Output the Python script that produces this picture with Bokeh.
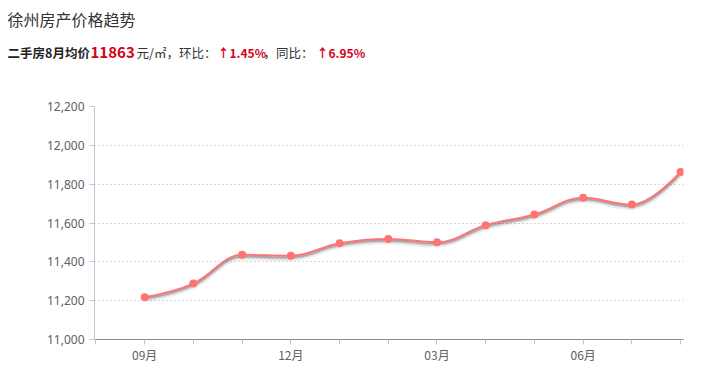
import numpy as np
from bokeh.plotting import figure
from bokeh.layouts import column
from bokeh.models import FixedTicker, NumeralTickFormatter, Range1d
from bokeh.core.properties import value
from bokeh.embed import file_html
from bokeh.resources import INLINE

# ---- data ----
months = ["09月", "10月", "11月", "12月", "01月", "02月", "03月", "04月", "05月", "06月", "07月", "08月"]
prices = [11218, 11288, 11436, 11431, 11496, 11518, 11501, 11589, 11644, 11730, 11695, 11863]
y_ticks = [11000, 11200, 11400, 11600, 11800, 12000, 12200]
title_text = "徐州房产价格趋势"
sub_parts = ["二手房8月均价", "11863", "元/㎡，环比：", "↑1.45%", "，同比：", "↑6.95%"]

LINE = "#ff7373"
RED = "#d0021b"
FONT = "Noto Sans CJK SC"

xs = list(range(len(prices)))

# Highcharts-like spline control points
def spline_segments(x, y, smoothing=1.5):
    n = len(x)
    denom = smoothing + 1
    lc = [None] * n
    rc = [None] * n
    for i in range(n):
        px, py = x[i], y[i]
        if 0 < i < n - 1:
            lx, ly = x[i - 1], y[i - 1]
            nx, ny = x[i + 1], y[i + 1]
            lcx = (smoothing * px + lx) / denom
            lcy = (smoothing * py + ly) / denom
            rcx = (smoothing * px + nx) / denom
            rcy = (smoothing * py + ny) / denom
            if rcx != lcx:
                corr = ((rcy - lcy) * (rcx - px)) / (rcx - lcx) + py - rcy
                lcy += corr
                rcy += corr
            if lcy > ly and lcy > py:
                lcy = max(ly, py); rcy = 2 * py - lcy
            elif lcy < ly and lcy < py:
                lcy = min(ly, py); rcy = 2 * py - lcy
            if rcy > ny and rcy > py:
                rcy = max(ny, py); lcy = 2 * py - rcy
            elif rcy < ny and rcy < py:
                rcy = min(ny, py); lcy = 2 * py - rcy
            lc[i] = (lcx, lcy)
            rc[i] = (rcx, rcy)
        else:
            lc[i] = (px, py)
            rc[i] = (px, py)
    segs = dict(x0=[], y0=[], x1=[], y1=[], cx0=[], cy0=[], cx1=[], cy1=[])
    for i in range(n - 1):
        segs["x0"].append(x[i]); segs["y0"].append(y[i])
        segs["x1"].append(x[i + 1]); segs["y1"].append(y[i + 1])
        segs["cx0"].append(rc[i][0]); segs["cy0"].append(rc[i][1])
        segs["cx1"].append(lc[i + 1][0]); segs["cy1"].append(lc[i + 1][1])
    return segs

segs = spline_segments(xs, prices)

W = 712
HEAD_H = 70
H = 367 - HEAD_H

# ---- header (title + subtitle) ----
hd = figure(width=W, height=HEAD_H, output_backend="svg", toolbar_location=None,
            x_range=Range1d(0, W), y_range=Range1d(HEAD_H, 0),
            min_border=0, x_axis_location=None, y_axis_location=None)
hd.frame_align = False
hd.outline_line_color = None
hd.grid.grid_line_color = None
hd.text(x=[7], y=[18], text=[title_text], text_font=value(FONT), text_font_size="16px",
        text_color="#333333", text_baseline="middle")
sub_x = [7, 90, 136, 217, 263, 316]
sub_style = [("bold", "#222222", "12.5px"), ("bold", RED, "15px"), ("normal", "#333333", "12.5px"),
             ("bold", RED, "12px"), ("normal", "#333333", "12.5px"), ("bold", RED, "12px")]
for t, sx, (fs, col, sz) in zip(sub_parts, sub_x, sub_style):
    hd.text(x=[sx], y=[52], text=[t], text_font=value(FONT), text_font_size=sz,
            text_font_style=fs, text_color=col, text_baseline="middle")

# ---- chart ----
p = figure(width=W, height=H, output_backend="svg", toolbar_location=None,
           x_range=Range1d(-1.03, 11.06), y_range=Range1d(y_ticks[0], y_ticks[-1]),
           min_border_left=94, min_border_right=29, min_border_top=106 - HEAD_H, min_border_bottom=28)
p.frame_align = False
p.outline_line_color = None
p.background_fill_color = "white"

# shadow
shadow_off = 10
for w, a, off in [(5, 0.06, 1.6), (3, 0.12, 1.2), (2, 0.2, 0.8)]:
    p.bezier(x0=segs["x0"], y0=[v - shadow_off * off for v in segs["y0"]],
             x1=segs["x1"], y1=[v - shadow_off * off for v in segs["y1"]],
             cx0=segs["cx0"], cy0=[v - shadow_off * off for v in segs["cy0"]],
             cx1=segs["cx1"], cy1=[v - shadow_off * off for v in segs["cy1"]],
             line_color="black", line_alpha=a, line_width=w)
p.bezier(**segs, line_color=LINE, line_width=2)
p.scatter(xs, prices, size=8, fill_color=LINE, line_color=None)

# axes
p.xgrid.grid_line_color = None
p.ygrid.grid_line_color = "#b0b0b0"
p.ygrid.grid_line_dash = "1 3"
p.ygrid.ticker = FixedTicker(ticks=y_ticks)

p.yaxis.ticker = FixedTicker(ticks=y_ticks)
p.yaxis.formatter = NumeralTickFormatter(format="0,0")
p.yaxis.axis_line_color = "#c0c8d8"
p.yaxis.major_tick_line_color = "#c0c8d8"
p.yaxis.major_tick_out = 5
p.yaxis.major_tick_in = 0
p.yaxis.minor_tick_line_color = None
p.yaxis.major_label_text_color = "#606060"
p.yaxis.major_label_text_font = "Noto Sans"
p.yaxis.major_label_text_font_size = "12px"
p.yaxis.major_label_standoff = 5

x_ticks = list(range(-1, len(months)))
p.xaxis.ticker = FixedTicker(ticks=x_ticks)
p.xaxis.major_label_overrides = {i: (months[i] if (i >= 0 and i % 3 == 0) else "") for i in x_ticks}
p.xaxis.axis_line_color = "#888888"
p.xaxis.major_tick_line_color = "#c0c8d8"
p.xaxis.major_tick_out = 5
p.xaxis.major_tick_in = 0
p.xaxis.minor_tick_line_color = None
p.xaxis.major_label_text_color = "#606060"
p.xaxis.major_label_text_font = "Noto Sans CJK SC"
p.xaxis.major_label_text_font_size = "12px"
p.xaxis.major_label_standoff = 1

layout = column(hd, p, spacing=0)
open("out.html", "w").write(file_html(layout, INLINE))
